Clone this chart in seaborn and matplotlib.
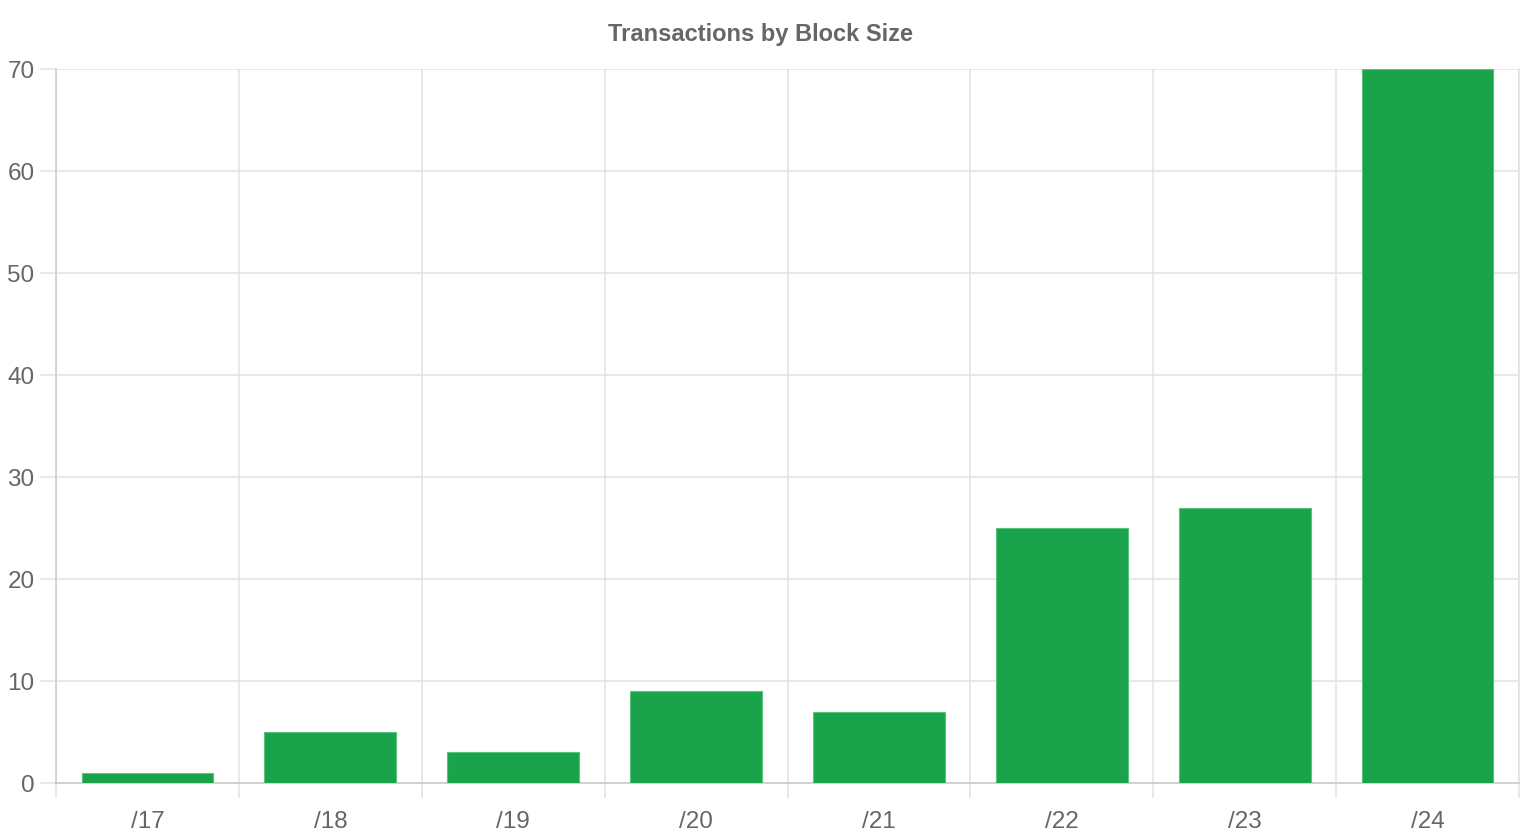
import matplotlib.pyplot as plt
import numpy as np
import pandas as pd
import seaborn as sns
from matplotlib.ticker import FixedLocator

block_sizes = ["/17", "/18", "/19", "/20", "/21", "/22", "/23", "/24"]
transactions = [1, 5, 3, 9, 7, 25, 27, 70]
y_ticks = [0, 10, 20, 30, 40, 50, 60, 70]

BAR_COLOR = "#19a34a"
GRID_COLOR = "#e1e1e1"
TEXT_COLOR = "#666666"

sns.set_theme(style="white")
plt.rcParams["font.family"] = ["Liberation Sans", "DejaVu Sans"]

df = pd.DataFrame({"block": block_sizes, "count": transactions})

fig = plt.figure(figsize=(15.2, 8.4), dpi=100)
ax = fig.add_axes([56 / 1520, 57 / 840, 1463 / 1520, 714 / 840])

sns.barplot(data=df, x="block", y="count", color=BAR_COLOR, width=0.72,
            edgecolor="#5cc27f", linewidth=0.8, saturation=1, ax=ax, zorder=3)

n = len(block_sizes)
ax.set_xlim(-0.5, n - 0.5)
ax.set_ylim(0, 70)
ax.set_yticks(y_ticks)
ax.xaxis.set_minor_locator(FixedLocator(np.arange(-0.5, n, 1.0)))

ax.grid(axis="y", which="major", color=GRID_COLOR, linewidth=1.1, zorder=0)
ax.grid(axis="x", which="minor", color=GRID_COLOR, linewidth=1.1, zorder=0)
ax.grid(axis="x", which="major", visible=False)

ax.tick_params(axis="y", which="major", length=11.5, width=1.1, color=GRID_COLOR,
               labelsize=17.5, labelcolor=TEXT_COLOR, pad=4, left=True)
ax.tick_params(axis="x", which="major", length=0, labelsize=17.5,
               labelcolor=TEXT_COLOR, pad=20)
ax.tick_params(axis="x", which="minor", length=11, width=1.1, color=GRID_COLOR,
               bottom=True)

ax.spines["top"].set_visible(False)
ax.spines["right"].set_color(GRID_COLOR)
ax.spines["left"].set_color("#cccccc")
ax.spines["bottom"].set_color("#c8c8c8")
for side in ["left", "bottom", "right"]:
    ax.spines[side].set_linewidth(1.1)

ax.set_xlabel("")
ax.set_ylabel("")

fig.text(0.5, 1 - 34 / 840, "Transactions by Block Size", ha="center", va="center",
         fontsize=17, fontweight="bold", color=TEXT_COLOR)

fig.savefig("out.png", dpi=100)
plt.close(fig)
